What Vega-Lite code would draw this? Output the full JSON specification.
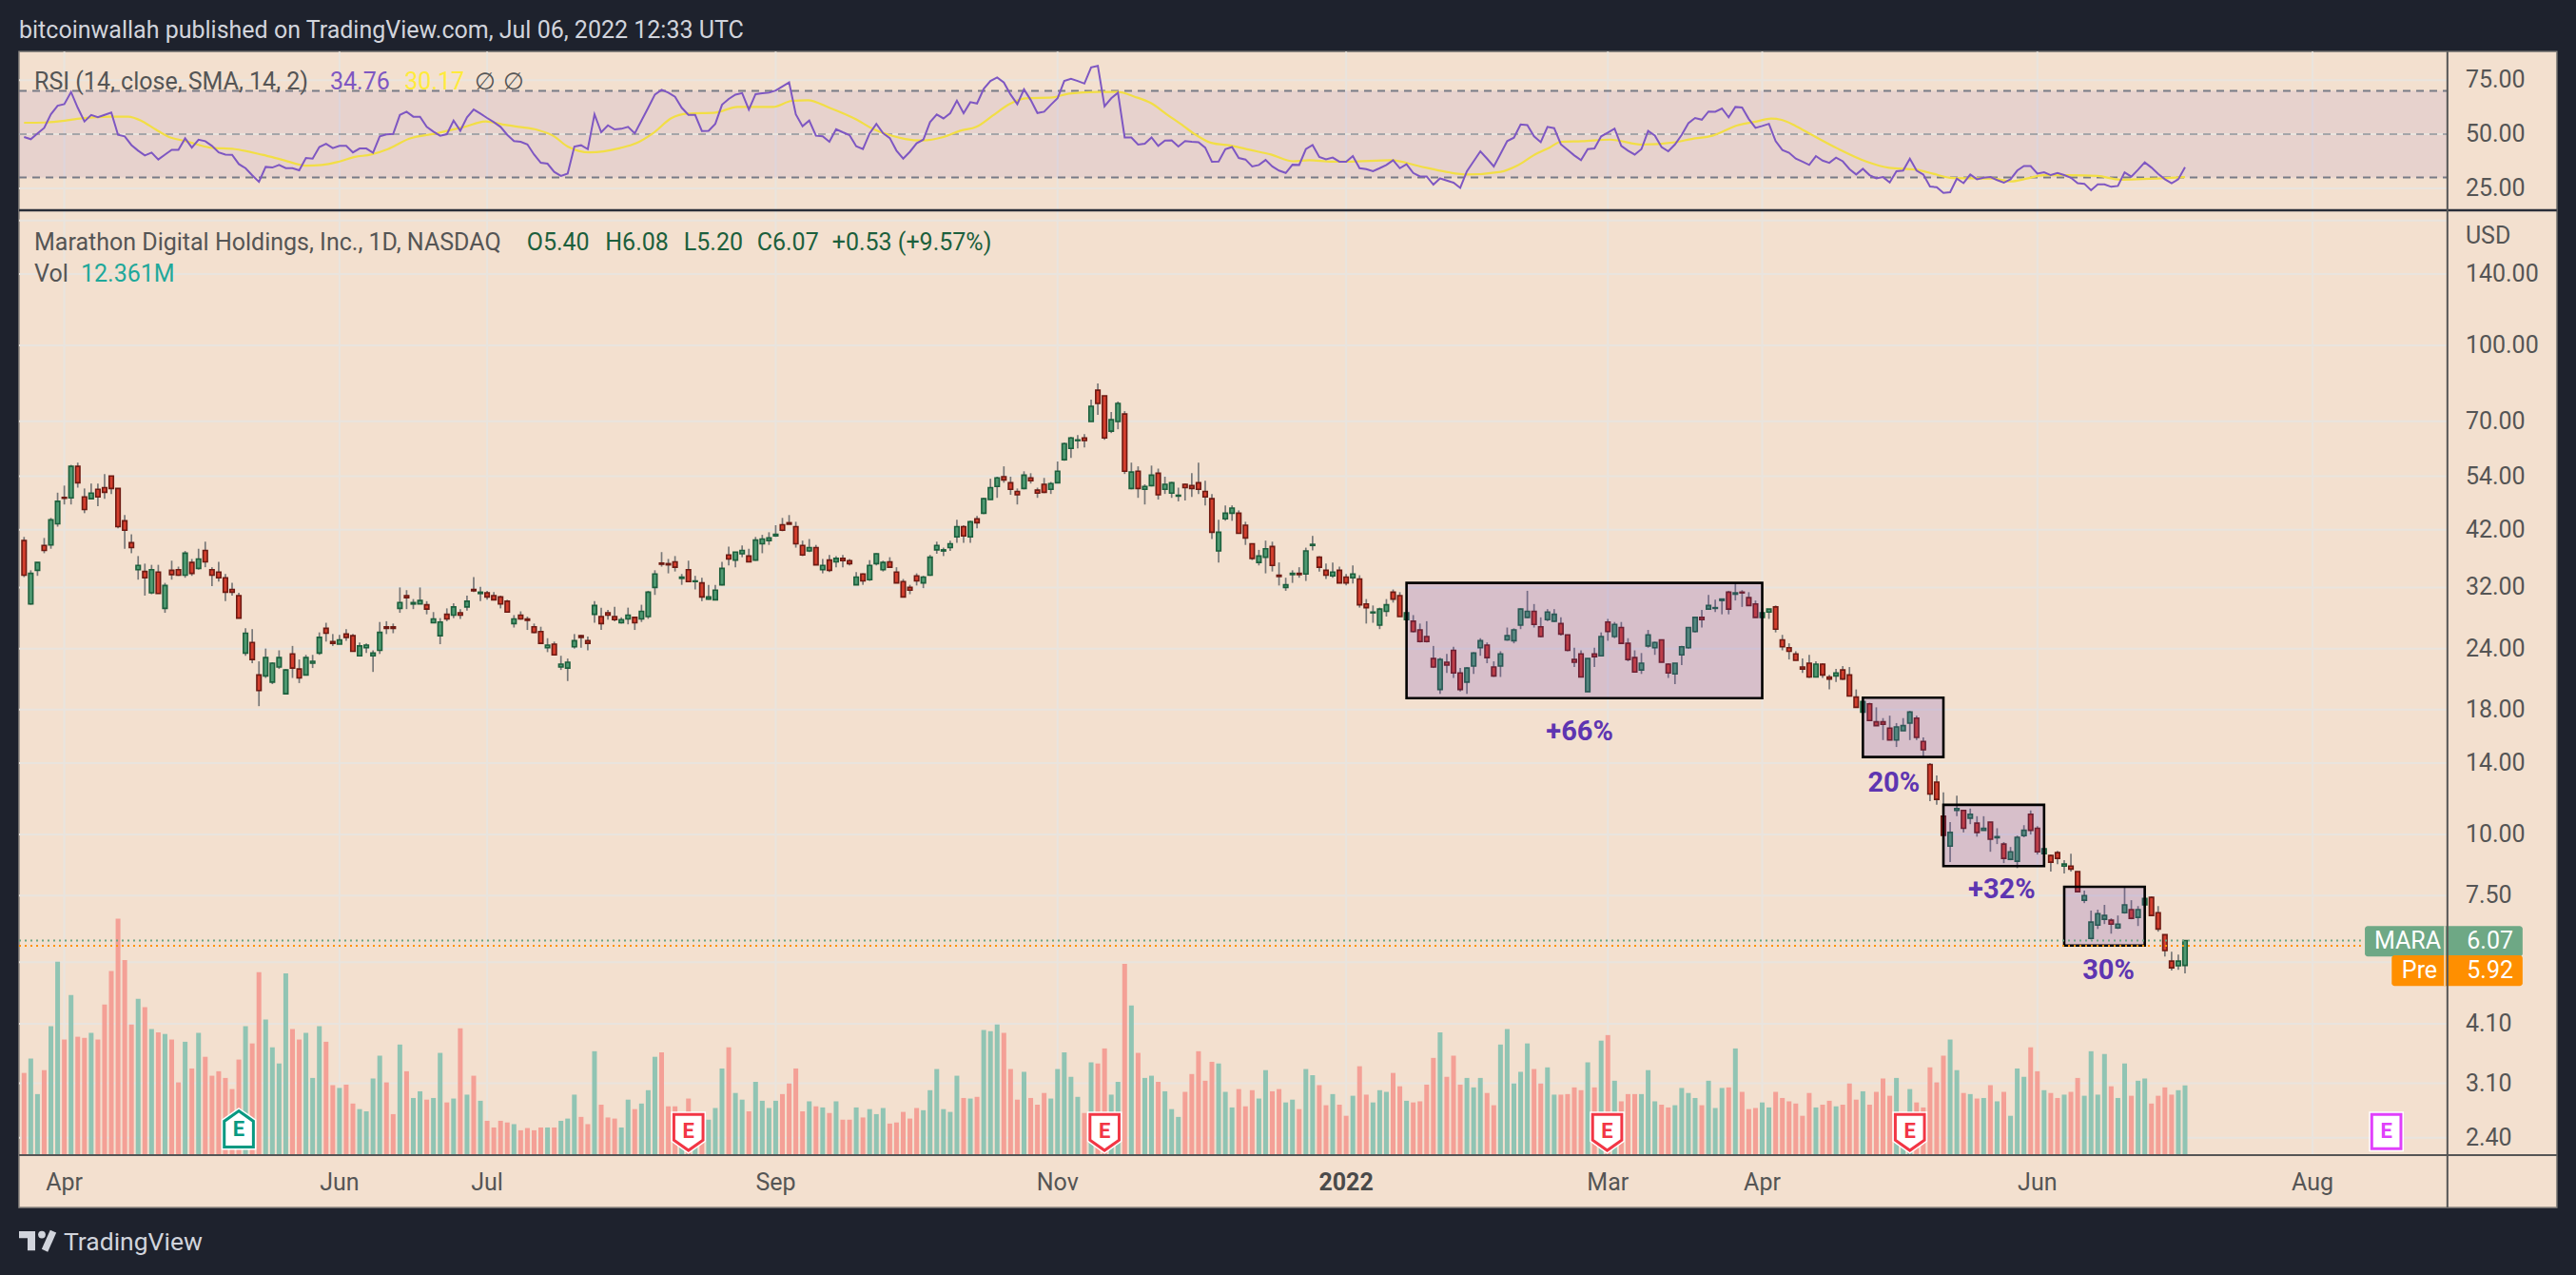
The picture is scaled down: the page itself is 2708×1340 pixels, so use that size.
{"$schema":"https://vega.github.io/schema/vega-lite/v6.json","width":2708,"height":1340,"padding":0,"autosize":{"type":"fit","contains":"padding"},"background":"#1e222d",
"config":{"view":{"stroke":null},"text":{"font":"Roboto","fontSize":25,"align":"left","baseline":"middle"}},
"datasets":{
"bars":[
{"i":0,"o":39.9,"h":40.6,"l":33.6,"c":33.9,"v":14.6,"r":48.7},{"i":1,"o":29.6,"h":34.7,"l":29.5,"c":34.2,"v":17.2,"r":47.7},{"i":2,"o":34.7,"h":36,"l":33.8,"c":36,"v":10.8,"r":50.4},{"i":3,"o":39,"h":40.4,"l":37.6,"c":38.1,"v":15.1,"r":52.9},{"i":4,"o":39.1,"h":44.4,"l":38.4,"c":44,"v":23,"r":59.2},{"i":5,"o":43.2,"h":50,"l":42.6,"c":48,"v":34.6,"r":63.2},{"i":6,"o":48.9,"h":51.7,"l":47.3,"c":48.7,"v":20.6,"r":63.9},{"i":7,"o":48.8,"h":57,"l":47.3,"c":56.6,"v":28.6,"r":69.5},{"i":8,"o":56.6,"h":57.6,"l":51.2,"c":52.4,"v":21.1,"r":62.2},{"i":9,"o":49,"h":51,"l":45.4,"c":46.2,"v":20.9,"r":55.9},
{"i":10,"o":48.6,"h":52.2,"l":48.6,"c":49.9,"v":21.8,"r":58.9},{"i":11,"o":50.8,"h":52.2,"l":46.9,"c":49,"v":20.6,"r":57.8},{"i":12,"o":51.2,"h":54.6,"l":48.6,"c":50.1,"v":26.9,"r":58.9},{"i":13,"o":54.1,"h":54.1,"l":49.7,"c":51,"v":32.9,"r":60},{"i":14,"o":51,"h":51,"l":42.3,"c":42.6,"v":42.3,"r":49.7},{"i":15,"o":43.8,"h":45,"l":38.4,"c":41.9,"v":34.9,"r":49},{"i":16,"o":39.5,"h":41.1,"l":37.6,"c":38.6,"v":23.3,"r":45},{"i":17,"o":34.8,"h":37.1,"l":33.2,"c":35.5,"v":27.9,"r":42.4},{"i":18,"o":34.5,"h":35.8,"l":30.8,"c":33.5,"v":26.4,"r":40.2},{"i":19,"o":31.2,"h":35.6,"l":31,"c":34.8,"v":22.5,"r":41.5},
{"i":20,"o":34.4,"h":35.6,"l":31.1,"c":31.1,"v":21.9,"r":38.3},{"i":21,"o":29,"h":32.7,"l":28.4,"c":32.3,"v":21.6,"r":40.6},{"i":22,"o":34.7,"h":36.3,"l":33.2,"c":34,"v":20.6,"r":42.8},{"i":23,"o":34.8,"h":35.3,"l":33.8,"c":33.9,"v":12.9,"r":42.8},{"i":24,"o":33.9,"h":38,"l":33.5,"c":37.6,"v":20.2,"r":48.1},{"i":25,"o":36,"h":36.6,"l":33.8,"c":34.2,"v":15.4,"r":43.8},{"i":26,"o":35,"h":38.4,"l":34.8,"c":36.6,"v":21.8,"r":47.5},{"i":27,"o":38.1,"h":39.7,"l":35.2,"c":36.1,"v":17.5,"r":46.8},{"i":28,"o":34.8,"h":35.2,"l":32.2,"c":33.9,"v":14.1,"r":44.6},{"i":29,"o":34.4,"h":36.1,"l":32.9,"c":33.5,"v":14.9,"r":41.6},
{"i":30,"o":33.5,"h":34.1,"l":30,"c":31.3,"v":13.7,"r":40.6},{"i":31,"o":31.7,"h":32.7,"l":30.8,"c":31.3,"v":11.7,"r":40.5},{"i":32,"o":30.8,"h":31.2,"l":27.7,"c":27.7,"v":17,"r":36.2},{"i":33,"o":23.5,"h":26.4,"l":23.2,"c":25.8,"v":23,"r":34.3},{"i":34,"o":24.7,"h":26.3,"l":22.4,"c":22.8,"v":19.9,"r":31},{"i":35,"o":21.2,"h":22.6,"l":18.3,"c":19.7,"v":32.7,"r":28},{"i":36,"o":21.1,"h":24,"l":20.9,"c":23,"v":24.2,"r":34.9},{"i":37,"o":20.5,"h":22.5,"l":20.3,"c":22.4,"v":19.2,"r":34.6},{"i":38,"o":22,"h":23.8,"l":21.8,"c":23,"v":16.3,"r":35.8},{"i":39,"o":19.4,"h":21.8,"l":19.4,"c":21.7,"v":32.5,"r":34.3},
{"i":40,"o":23.4,"h":24.3,"l":20.9,"c":21.9,"v":22.5,"r":34.3},{"i":41,"o":21.8,"h":22.8,"l":20.4,"c":20.9,"v":20.6,"r":33.3},{"i":42,"o":21.2,"h":23.3,"l":21.2,"c":23,"v":21.8,"r":39},{"i":43,"o":22.4,"h":23.3,"l":21.9,"c":22.6,"v":13.7,"r":38.7},{"i":44,"o":23.5,"h":25.9,"l":23.3,"c":25.3,"v":23,"r":44.1},{"i":45,"o":26.4,"h":27.1,"l":24.8,"c":25.8,"v":20.2,"r":45.6},{"i":46,"o":24.8,"h":25.7,"l":24.3,"c":24.6,"v":12.4,"r":43.6},{"i":47,"o":24.5,"h":25.6,"l":24.5,"c":25,"v":11.9,"r":44.6},{"i":48,"o":25.7,"h":26.3,"l":24.9,"c":25.3,"v":12.5,"r":44.6},{"i":49,"o":25.5,"h":25.7,"l":23.7,"c":23.7,"v":9.1,"r":41.6},
{"i":50,"o":23.2,"h":24.7,"l":23.2,"c":24.3,"v":8.1,"r":43.4},{"i":51,"o":24.1,"h":24.6,"l":23.5,"c":24.4,"v":7.7,"r":43.4},{"i":52,"o":23.2,"h":23.8,"l":21.5,"c":23.5,"v":13.6,"r":41.4},{"i":53,"o":23.8,"h":27.2,"l":23.4,"c":25.9,"v":17.7,"r":49},{"i":54,"o":26.6,"h":27.3,"l":25.7,"c":26.4,"v":12.9,"r":49.9},{"i":55,"o":26.6,"h":27,"l":25.8,"c":26.4,"v":7.2,"r":50.1},{"i":56,"o":29,"h":32,"l":28.4,"c":29.8,"v":19.7,"r":58.9},{"i":57,"o":30.8,"h":31.6,"l":28.9,"c":30.5,"v":14.9,"r":60.4},{"i":58,"o":29.6,"h":30.3,"l":28.9,"c":29.8,"v":10.1,"r":58.1},{"i":59,"o":29.6,"h":32,"l":29.6,"c":30.1,"v":11.3,"r":58.1},
{"i":60,"o":29.5,"h":30,"l":28.2,"c":28.9,"v":9.8,"r":53.4},{"i":61,"o":27.1,"h":28.5,"l":27.1,"c":27.6,"v":10.1,"r":51.2},{"i":62,"o":25.5,"h":27.7,"l":24.5,"c":27.2,"v":18.2,"r":49.3},{"i":63,"o":28.2,"h":29,"l":27.3,"c":27.6,"v":9.3,"r":50},{"i":64,"o":28.1,"h":29.7,"l":27.7,"c":29.2,"v":10,"r":56.3},{"i":65,"o":28.4,"h":28.9,"l":27.6,"c":28.1,"v":22.6,"r":51.6},{"i":66,"o":29.2,"h":30.8,"l":28.7,"c":30,"v":10.7,"r":57.8},{"i":67,"o":31.7,"h":33.6,"l":31.3,"c":31.5,"v":14.1,"r":61.4},{"i":68,"o":31.1,"h":32.1,"l":30,"c":31.3,"v":9.6,"r":59.5},{"i":69,"o":31.2,"h":31.5,"l":30.2,"c":30.6,"v":6,"r":57.5},
{"i":70,"o":30.8,"h":31.3,"l":30.1,"c":30.2,"v":4.8,"r":55.6},{"i":71,"o":30.6,"h":30.8,"l":29,"c":29.6,"v":6,"r":53.4},{"i":72,"o":30,"h":30.2,"l":28.5,"c":28.5,"v":5.7,"r":49.7},{"i":73,"o":27,"h":28.1,"l":26.5,"c":27.6,"v":5.4,"r":46.8},{"i":74,"o":28.1,"h":28.6,"l":27.5,"c":27.6,"v":4.3,"r":46.5},{"i":75,"o":27.6,"h":27.9,"l":26.2,"c":27.4,"v":4.7,"r":45.3},{"i":76,"o":26.6,"h":27,"l":25.8,"c":25.9,"v":4.3,"r":40.6},{"i":77,"o":26,"h":26.6,"l":24.6,"c":24.6,"v":4.8,"r":36.8},{"i":78,"o":24.1,"h":25.2,"l":23.6,"c":24.4,"v":4.8,"r":36.4},{"i":79,"o":24.5,"h":24.8,"l":23.3,"c":23.3,"v":4.8,"r":32.6},
{"i":80,"o":22,"h":23.2,"l":21.7,"c":22.3,"v":6,"r":30.7},{"i":81,"o":21.9,"h":22.9,"l":20.6,"c":22.5,"v":6.4,"r":31.8},{"i":82,"o":24.2,"h":25.7,"l":24,"c":24.9,"v":10.7,"r":44.3},{"i":83,"o":25.5,"h":25.6,"l":24.1,"c":25.3,"v":6.7,"r":44.9},{"i":84,"o":24.9,"h":25.4,"l":23.8,"c":24.6,"v":5.4,"r":43.1},{"i":85,"o":28.2,"h":30,"l":27.1,"c":29.4,"v":18.5,"r":59.2},{"i":86,"o":27.9,"h":29.1,"l":26.2,"c":27,"v":8.9,"r":50.9},{"i":87,"o":28.4,"h":28.8,"l":27.5,"c":28.1,"v":6.6,"r":54.1},{"i":88,"o":27.9,"h":29.2,"l":27.3,"c":27.5,"v":6.4,"r":52.2},{"i":89,"o":27.1,"h":27.8,"l":27,"c":27.5,"v":4.8,"r":52.5},
{"i":90,"o":27.6,"h":29.1,"l":26.9,"c":28.1,"v":9.8,"r":53.4},{"i":91,"o":27.8,"h":27.9,"l":26.2,"c":27.1,"v":8.1,"r":50.4},{"i":92,"o":27.6,"h":29.5,"l":27.2,"c":28.6,"v":9.1,"r":56.3},{"i":93,"o":27.9,"h":31.5,"l":27.6,"c":31.3,"v":11.5,"r":62.2},{"i":94,"o":32,"h":34.7,"l":30.9,"c":34.1,"v":17.5,"r":68.3},{"i":95,"o":35.9,"h":37.8,"l":35.3,"c":35.7,"v":18.3,"r":70.5},{"i":96,"o":35.8,"h":36.6,"l":34.2,"c":35.6,"v":8.6,"r":69.2},{"i":97,"o":36.1,"h":37.1,"l":34.5,"c":35.2,"v":8.6,"r":67.3},{"i":98,"o":33.4,"h":34.1,"l":32.4,"c":33.6,"v":6,"r":62.2},{"i":99,"o":34.8,"h":36.3,"l":32.9,"c":32.9,"v":10,"r":58.9},
{"i":100,"o":32.9,"h":33.8,"l":31.7,"c":33,"v":6,"r":58.9},{"i":101,"o":32.7,"h":33.5,"l":30,"c":30.6,"v":5.5,"r":51.5},{"i":102,"o":30.3,"h":32.4,"l":30.2,"c":30.6,"v":6.2,"r":51.6},{"i":103,"o":30.2,"h":32.4,"l":30.2,"c":31.6,"v":8.3,"r":54.8},{"i":104,"o":32.4,"h":36.1,"l":32.3,"c":35,"v":15.4,"r":63.6},{"i":105,"o":37.3,"h":38.8,"l":35.5,"c":36.6,"v":19.2,"r":66.3},{"i":106,"o":36.4,"h":37.8,"l":35.2,"c":37.8,"v":11,"r":68.3},{"i":107,"o":37.5,"h":39,"l":36.9,"c":38.1,"v":9.8,"r":69},{"i":108,"o":37.1,"h":38.4,"l":36.1,"c":36.1,"v":7.7,"r":61.4},{"i":109,"o":36.4,"h":40.6,"l":36.3,"c":40,"v":13,"r":68.5},
{"i":110,"o":39.3,"h":41,"l":37.6,"c":40.2,"v":9.6,"r":68.9},{"i":111,"o":39.9,"h":41.5,"l":39.1,"c":40.4,"v":8.3,"r":69.2},{"i":112,"o":40.8,"h":42.9,"l":40.6,"c":41.1,"v":9.6,"r":70.2},{"i":113,"o":43,"h":44.4,"l":41.7,"c":41.9,"v":10.8,"r":72.1},{"i":114,"o":43.4,"h":45,"l":43.1,"c":43.1,"v":12.7,"r":73.9},{"i":115,"o":42.6,"h":43.6,"l":38.6,"c":39.3,"v":15.4,"r":59.2},{"i":116,"o":39,"h":39.9,"l":37.1,"c":37.3,"v":7.7,"r":53.7},{"i":117,"o":38,"h":40.2,"l":37.8,"c":38.6,"v":9.5,"r":56.3},{"i":118,"o":38.6,"h":39.1,"l":35.6,"c":35.6,"v":8.6,"r":49.3},{"i":119,"o":34.8,"h":36.6,"l":34.2,"c":35.5,"v":8.4,"r":49},
{"i":120,"o":36.4,"h":37.3,"l":34.4,"c":34.7,"v":7.4,"r":46.5},{"i":121,"o":36.1,"h":37.1,"l":35.2,"c":36.7,"v":9.5,"r":52.3},{"i":122,"o":36.7,"h":37.3,"l":35.2,"c":36.3,"v":6.2,"r":50.9},{"i":123,"o":36.3,"h":36.6,"l":35.5,"c":35.8,"v":6.2,"r":49.6},{"i":124,"o":32.4,"h":34.4,"l":32.4,"c":33.6,"v":8.4,"r":44.4},{"i":125,"o":34.1,"h":34.2,"l":32.4,"c":33,"v":6.6,"r":43.1},{"i":126,"o":33.2,"h":36.4,"l":33,"c":35.5,"v":8.1,"r":50.4},{"i":127,"o":35.8,"h":37.6,"l":35.5,"c":37.5,"v":7.2,"r":54.8},{"i":128,"o":34.8,"h":36.3,"l":34.5,"c":36,"v":8.3,"r":50.4},{"i":129,"o":36.1,"h":36.9,"l":35.1,"c":35.2,"v":5.5,"r":48.2},
{"i":130,"o":34.4,"h":35.2,"l":32.7,"c":32.7,"v":5.7,"r":42.4},{"i":131,"o":32.9,"h":33.3,"l":30.6,"c":30.6,"v":7.6,"r":38.7},{"i":132,"o":32,"h":32.4,"l":31,"c":31.6,"v":6.4,"r":41.9},{"i":133,"o":33.8,"h":34.2,"l":32.3,"c":33,"v":8.3,"r":45.8},{"i":134,"o":32.7,"h":33.8,"l":31.9,"c":33.6,"v":7.9,"r":47.5},{"i":135,"o":33.9,"h":37.3,"l":33.8,"c":36.9,"v":11.5,"r":55.6},{"i":136,"o":38.2,"h":39.7,"l":37.5,"c":39,"v":15.3,"r":59.1},{"i":137,"o":38,"h":38.6,"l":37.1,"c":38.2,"v":8.1,"r":57.3},{"i":138,"o":38.6,"h":39.9,"l":38,"c":39.3,"v":7.6,"r":59.7},{"i":139,"o":40.6,"h":44,"l":39.5,"c":42.6,"v":14.1,"r":65.5},
{"i":140,"o":42.6,"h":42.9,"l":39.5,"c":40.8,"v":10.1,"r":59.7},{"i":141,"o":40.6,"h":43.8,"l":39.5,"c":43.6,"v":10,"r":64.8},{"i":142,"o":44.2,"h":44.8,"l":42.3,"c":43.4,"v":10.3,"r":64.2},{"i":143,"o":45.4,"h":48.8,"l":45.2,"c":48.6,"v":22.3,"r":71},{"i":144,"o":48.4,"h":53.4,"l":48.4,"c":51.2,"v":22.1,"r":74.6},{"i":145,"o":51.5,"h":53.9,"l":48.8,"c":53.6,"v":23.3,"r":76.2},{"i":146,"o":53.9,"h":56.6,"l":52.4,"c":53.1,"v":21.8,"r":73.9},{"i":147,"o":52.4,"h":53.9,"l":49.5,"c":50.8,"v":15.3,"r":68.3},{"i":148,"o":50.3,"h":51,"l":47.3,"c":49.5,"v":9.8,"r":63.9},{"i":149,"o":51,"h":55.3,"l":50.8,"c":54.3,"v":14.8,"r":70.7},
{"i":150,"o":53.6,"h":54.8,"l":52.2,"c":52.9,"v":10.1,"r":65.8},{"i":151,"o":50.6,"h":51.2,"l":48.8,"c":49.9,"v":8.9,"r":59.8},{"i":152,"o":52,"h":53.6,"l":49.9,"c":50.1,"v":11,"r":60.4},{"i":153,"o":50.8,"h":52.6,"l":49.7,"c":52.2,"v":10,"r":63.6},{"i":154,"o":52.4,"h":57.9,"l":52.4,"c":55.3,"v":15.3,"r":66.6},{"i":155,"o":58.4,"h":63.3,"l":58.1,"c":63,"v":18.3,"r":74.6},{"i":156,"o":61.6,"h":65,"l":58.9,"c":64.7,"v":13.9,"r":75.6},{"i":157,"o":63.9,"h":65.6,"l":61.6,"c":64.1,"v":10.3,"r":74.6},{"i":158,"o":64.7,"h":65.9,"l":61.9,"c":63.9,"v":7.4,"r":73.4},{"i":159,"o":69.9,"h":77.5,"l":69.9,"c":75.1,"v":16.5,"r":80.9},
{"i":160,"o":81,"h":83.6,"l":72.1,"c":76.1,"v":16.3,"r":81.6},{"i":161,"o":78.9,"h":78.9,"l":64.1,"c":64.7,"v":19,"r":62.9},{"i":162,"o":66.8,"h":73.1,"l":66.2,"c":70.5,"v":10.7,"r":66.6},{"i":163,"o":69.9,"h":76.8,"l":67.4,"c":76.1,"v":13,"r":69.2},{"i":164,"o":72.4,"h":73.4,"l":54.6,"c":55.3,"v":34.2,"r":48.5},{"i":165,"o":51,"h":57.6,"l":50.8,"c":55.1,"v":26.7,"r":48.5},{"i":166,"o":55.3,"h":56.6,"l":48.8,"c":51,"v":18.2,"r":45.2},{"i":167,"o":50.8,"h":52,"l":47.3,"c":51.5,"v":13.7,"r":45.6},{"i":168,"o":51.7,"h":56.8,"l":51.5,"c":54.3,"v":14.1,"r":48.5},{"i":169,"o":54.8,"h":56,"l":48.4,"c":49.5,"v":13,"r":44.6},
{"i":170,"o":50.8,"h":53.9,"l":49.7,"c":52,"v":11.3,"r":47.1},{"i":171,"o":49.9,"h":52.6,"l":48.8,"c":52.4,"v":8.1,"r":47.2},{"i":172,"o":49.2,"h":51.2,"l":48,"c":49.4,"v":6.7,"r":44.3},{"i":173,"o":52,"h":52.2,"l":48.2,"c":51.2,"v":11.2,"r":46.8},{"i":174,"o":51.7,"h":54.8,"l":49,"c":51,"v":14.4,"r":46.5},{"i":175,"o":52.4,"h":57.6,"l":49.7,"c":50.8,"v":18.5,"r":46.3},{"i":176,"o":50.3,"h":52.9,"l":47.1,"c":49,"v":13.2,"r":43.8},{"i":177,"o":48.6,"h":49.7,"l":40.2,"c":41.5,"v":16.6,"r":37.3},{"i":178,"o":38,"h":44,"l":36,"c":41.5,"v":16.3,"r":37.4},{"i":179,"o":44.2,"h":47.1,"l":43.8,"c":45.4,"v":11.2,"r":43.1},
{"i":180,"o":45.4,"h":47.1,"l":43.8,"c":46.5,"v":8.4,"r":44.1},{"i":181,"o":45.4,"h":46,"l":41.3,"c":41.3,"v":11.7,"r":39},{"i":182,"o":42.9,"h":43.6,"l":39.1,"c":40.4,"v":8.6,"r":38.3},{"i":183,"o":39.3,"h":39.3,"l":36.4,"c":36.7,"v":11.5,"r":35.1},{"i":184,"o":36,"h":38.2,"l":35.5,"c":37.1,"v":10,"r":35.8},{"i":185,"o":36.9,"h":39.9,"l":34.2,"c":38.4,"v":15.1,"r":38.1},{"i":186,"o":38.8,"h":39.7,"l":34.5,"c":35.5,"v":11.3,"r":35.1},{"i":187,"o":33.9,"h":36,"l":32.3,"c":33.7,"v":11.7,"r":33.2},{"i":188,"o":32,"h":33.5,"l":31.5,"c":32.4,"v":9.3,"r":32.1},{"i":189,"o":34,"h":34.7,"l":32.7,"c":34.2,"v":9.8,"r":35.9},
{"i":190,"o":34.2,"h":35.2,"l":33.5,"c":34,"v":8.1,"r":35.8},{"i":191,"o":34.1,"h":38.6,"l":33,"c":38,"v":15.3,"r":43.1},{"i":192,"o":39,"h":40.8,"l":38.1,"c":39.2,"v":14.2,"r":45},{"i":193,"o":36.9,"h":37.1,"l":34.5,"c":35.2,"v":12.4,"r":39.5},{"i":194,"o":34.7,"h":35.8,"l":33.3,"c":33.9,"v":8.8,"r":38.4},{"i":195,"o":33.8,"h":36,"l":33.5,"c":34.4,"v":10.8,"r":39.2},{"i":196,"o":34.7,"h":35.3,"l":32.7,"c":32.7,"v":8.9,"r":37.3},{"i":197,"o":33.6,"h":34.1,"l":32.3,"c":32.7,"v":6.9,"r":37.3},{"i":198,"o":33.5,"h":35.5,"l":32.6,"c":34.1,"v":10.5,"r":39.9},{"i":199,"o":33.3,"h":33.9,"l":29.1,"c":29.5,"v":15.8,"r":34.3},
{"i":200,"o":29.6,"h":30.3,"l":27,"c":29.1,"v":10.7,"r":33.9},{"i":201,"o":28.4,"h":29.4,"l":27.1,"c":28.5,"v":9.3,"r":32.9},{"i":202,"o":26.8,"h":29.1,"l":26.3,"c":28.9,"v":11.5,"r":34.3},{"i":203,"o":28.6,"h":30.3,"l":27.9,"c":29.5,"v":11.2,"r":35.8},{"i":204,"o":31.3,"h":31.7,"l":29.8,"c":30.3,"v":14.6,"r":38},{"i":205,"o":30.8,"h":31.3,"l":27.9,"c":27.9,"v":12.2,"r":34.3},{"i":206,"o":27.5,"h":29,"l":27.3,"c":28.4,"v":9.6,"r":36.1},{"i":207,"o":27.3,"h":28.1,"l":25.9,"c":26,"v":9.3,"r":32.1},{"i":208,"o":26.2,"h":27,"l":24.7,"c":24.8,"v":9.5,"r":30.5},{"i":209,"o":25.4,"h":27.3,"l":24.7,"c":24.8,"v":12.5,"r":30.5},
{"i":210,"o":22.9,"h":24.3,"l":21.9,"c":22,"v":17.3,"r":26.7},{"i":211,"o":19.8,"h":23,"l":19.4,"c":22.8,"v":21.9,"r":29.6},{"i":212,"o":22.5,"h":23.4,"l":21.4,"c":22.2,"v":13.9,"r":28.6},{"i":213,"o":23.8,"h":24.2,"l":20.9,"c":21.4,"v":17.7,"r":27.6},{"i":214,"o":21.4,"h":21.9,"l":19.6,"c":19.8,"v":12.5,"r":25.2},{"i":215,"o":20.5,"h":22,"l":19.4,"c":21.9,"v":13.7,"r":32.9},{"i":216,"o":22.1,"h":23.6,"l":21.3,"c":23.5,"v":12,"r":37.5},{"i":217,"o":24.1,"h":25.2,"l":23.2,"c":24.9,"v":13.7,"r":42.1},{"i":218,"o":24.4,"h":24.7,"l":22.4,"c":23,"v":11,"r":38.7},{"i":219,"o":22,"h":22.6,"l":21,"c":21.1,"v":8.8,"r":35.1},
{"i":220,"o":22.1,"h":23.7,"l":21,"c":23.4,"v":19.7,"r":40.9},{"i":221,"o":25,"h":26.5,"l":24.9,"c":25.5,"v":22.5,"r":46.8},{"i":222,"o":24.9,"h":26.4,"l":24.6,"c":26.2,"v":12.7,"r":48.4},{"i":223,"o":26.8,"h":29,"l":26.3,"c":28.9,"v":14.8,"r":54.5},{"i":224,"o":27.8,"h":31.5,"l":27.7,"c":28.6,"v":19.9,"r":54.2},{"i":225,"o":28.6,"h":29.6,"l":26.5,"c":26.9,"v":15.3,"r":49},{"i":226,"o":26.6,"h":27.8,"l":25.3,"c":25.4,"v":12.7,"r":46.3},{"i":227,"o":27.5,"h":28.9,"l":27.3,"c":28.5,"v":15.6,"r":53.4},{"i":228,"o":27.3,"h":28.9,"l":27.2,"c":28.2,"v":10.7,"r":52.8},{"i":229,"o":27,"h":27.8,"l":25.5,"c":25.7,"v":10.7,"r":45.3},
{"i":230,"o":25.6,"h":25.6,"l":23.7,"c":23.8,"v":10.8,"r":42.8},{"i":231,"o":22.8,"h":24.1,"l":22,"c":22.5,"v":12,"r":40.2},{"i":232,"o":23.4,"h":23.8,"l":21,"c":21,"v":11.5,"r":38},{"i":233,"o":19.6,"h":22.9,"l":19.6,"c":22.9,"v":16.5,"r":43.1},{"i":234,"o":23.4,"h":24.1,"l":22,"c":23.1,"v":12,"r":43.4},{"i":235,"o":23.2,"h":25.9,"l":23.2,"c":25.4,"v":20.4,"r":49},{"i":236,"o":27.2,"h":27.6,"l":24.9,"c":26,"v":21.4,"r":50.7},{"i":237,"o":25.4,"h":27.2,"l":25.2,"c":26.9,"v":13.2,"r":52.6},{"i":238,"o":26.5,"h":27.2,"l":24.6,"c":24.6,"v":9.5,"r":44.6},{"i":239,"o":24.6,"h":25.2,"l":22.6,"c":22.8,"v":10.8,"r":42.4},
{"i":240,"o":23,"h":23.8,"l":21.5,"c":21.5,"v":10.8,"r":40.6},{"i":241,"o":21.7,"h":23.5,"l":21.3,"c":22.4,"v":10.8,"r":43.1},{"i":242,"o":24.3,"h":26.2,"l":24.1,"c":25.6,"v":15.1,"r":51.5},{"i":243,"o":24.1,"h":24.8,"l":23.3,"c":24.7,"v":9.5,"r":49.4},{"i":244,"o":25,"h":25,"l":22.5,"c":22.5,"v":8.9,"r":44.1},{"i":245,"o":22.3,"h":22.4,"l":20.9,"c":21.4,"v":8.4,"r":42.1},{"i":246,"o":21.3,"h":22.4,"l":20.3,"c":22.4,"v":8.8,"r":45.3},{"i":247,"o":23.3,"h":24.3,"l":22.2,"c":24.2,"v":11.9,"r":49.7},{"i":248,"o":24.1,"h":26.5,"l":24,"c":26.5,"v":11,"r":55.1},{"i":249,"o":26,"h":27.8,"l":25.9,"c":27.8,"v":10.1,"r":57.5},
{"i":250,"o":27.8,"h":28.8,"l":26.5,"c":27.5,"v":8.8,"r":56.7},{"i":251,"o":28.9,"h":30.9,"l":28.8,"c":29.4,"v":13.2,"r":60.5},{"i":252,"o":29,"h":30.2,"l":28.5,"c":29.1,"v":8.3,"r":60.4},{"i":253,"o":30.1,"h":30.3,"l":28.2,"c":30.3,"v":11.9,"r":61.9},{"i":254,"o":31.3,"h":31.5,"l":28.2,"c":28.9,"v":12,"r":57.8},{"i":255,"o":31,"h":32.7,"l":30.1,"c":31.2,"v":19,"r":62.6},{"i":256,"o":31.3,"h":31.6,"l":29.2,"c":31.2,"v":11.2,"r":62.3},{"i":257,"o":30.5,"h":31.3,"l":29.4,"c":29.4,"v":8.1,"r":57},{"i":258,"o":29.6,"h":30.1,"l":27.8,"c":27.8,"v":8.3,"r":52.9},{"i":259,"o":27.8,"h":29,"l":27.7,"c":28.4,"v":9.3,"r":53.8},
{"i":260,"o":28.5,"h":28.9,"l":27.6,"c":28.9,"v":8.4,"r":54.8},{"i":261,"o":29.2,"h":29.4,"l":25.9,"c":26.3,"v":11.2,"r":46.8},{"i":262,"o":25,"h":25.6,"l":23.8,"c":24.2,"v":10.1,"r":42.7},{"i":263,"o":24.1,"h":24.6,"l":22.8,"c":23.7,"v":9.5,"r":41.4},{"i":264,"o":23.4,"h":23.7,"l":22.7,"c":22.7,"v":9.1,"r":38.7},{"i":265,"o":22,"h":22.9,"l":21.4,"c":21.8,"v":6.9,"r":37.3},{"i":266,"o":22.4,"h":23.3,"l":20.9,"c":21,"v":11,"r":35.8},{"i":267,"o":21,"h":22.6,"l":21,"c":22.3,"v":8.4,"r":39.9},{"i":268,"o":22.3,"h":22.4,"l":20.9,"c":21.2,"v":8.9,"r":37.8},{"i":269,"o":21,"h":21.2,"l":19.8,"c":20.8,"v":9.6,"r":36.8},
{"i":270,"o":21.1,"h":21.8,"l":20.5,"c":21.4,"v":8.6,"r":39.2},{"i":271,"o":21.7,"h":22.1,"l":20.7,"c":20.8,"v":8.9,"r":37.5},{"i":272,"o":21.2,"h":22,"l":19.2,"c":19.2,"v":12.7,"r":33.9},{"i":273,"o":19.1,"h":19.8,"l":18.2,"c":18.2,"v":9.8,"r":31.4},{"i":274,"o":17.8,"h":19.1,"l":17.7,"c":18.7,"v":11.3,"r":34},{"i":275,"o":18.5,"h":18.6,"l":17.1,"c":17.1,"v":8.9,"r":31.1},{"i":276,"o":17,"h":18.2,"l":16.7,"c":16.7,"v":11.2,"r":29.6},{"i":277,"o":17,"h":17.3,"l":15.6,"c":16.8,"v":13.6,"r":30.2},{"i":278,"o":16.5,"h":17.5,"l":15.6,"c":15.6,"v":10.5,"r":27.7},{"i":279,"o":15.6,"h":16.9,"l":15.1,"c":16.6,"v":13.7,"r":32.9},
{"i":280,"o":16.3,"h":17.3,"l":16.3,"c":16.7,"v":7,"r":33.2},{"i":281,"o":16.9,"h":17.9,"l":15.6,"c":17.8,"v":11.7,"r":38.7},{"i":282,"o":17.3,"h":17.5,"l":15.6,"c":15.8,"v":9.3,"r":33.2},{"i":283,"o":15.5,"h":15.8,"l":14.4,"c":14.9,"v":8.4,"r":31.4},{"i":284,"o":13.9,"h":14,"l":11.7,"c":12.1,"v":15.6,"r":25.8},{"i":285,"o":12.8,"h":13.2,"l":11.5,"c":11.8,"v":12.9,"r":25.5},{"i":286,"o":10.9,"h":12.2,"l":9.96,"c":9.96,"v":17.7,"r":22.9},{"i":287,"o":9.47,"h":10.6,"l":8.78,"c":10.1,"v":20.6,"r":23.2},{"i":288,"o":11.2,"h":12,"l":10.9,"c":11.3,"v":15.1,"r":29.5},{"i":289,"o":11.2,"h":11.2,"l":10.1,"c":10.3,"v":11,"r":27.4},
{"i":290,"o":10.8,"h":11.3,"l":10.5,"c":11,"v":10.8,"r":31.4},{"i":291,"o":10.55,"h":10.9,"l":9.9,"c":10.1,"v":10,"r":29.2},{"i":292,"o":10.2,"h":10.9,"l":10.2,"c":10.3,"v":10.1,"r":29.9},{"i":293,"o":10.6,"h":10.6,"l":9.22,"c":9.78,"v":12.4,"r":30.2},{"i":294,"o":9.85,"h":10.3,"l":9.56,"c":9.9,"v":9.5,"r":28.8},{"i":295,"o":9.56,"h":9.65,"l":8.74,"c":8.94,"v":11.2,"r":27.6},{"i":296,"o":8.9,"h":9.43,"l":8.86,"c":9.22,"v":6.9,"r":29.2},{"i":297,"o":8.82,"h":9.95,"l":8.54,"c":9.87,"v":15.4,"r":33.2},{"i":298,"o":9.95,"h":10.45,"l":9.87,"c":10.2,"v":13.9,"r":35.3},{"i":299,"o":11,"h":11.2,"l":10,"c":10.2,"v":19.2,"r":35.3},
{"i":300,"o":10.3,"h":10.4,"l":9.1,"c":9.22,"v":14.9,"r":31.8},{"i":301,"o":9.14,"h":9.6,"l":9.1,"c":9.35,"v":11.5,"r":32.4},{"i":302,"o":9.06,"h":9.1,"l":8.4,"c":8.78,"v":11,"r":31.1},{"i":303,"o":9.18,"h":9.26,"l":8.7,"c":8.94,"v":10.1,"r":32.1},{"i":304,"o":8.62,"h":8.86,"l":8.32,"c":8.7,"v":10.7,"r":31.1},{"i":305,"o":8.62,"h":9.14,"l":8.4,"c":8.5,"v":11.2,"r":29.9},{"i":306,"o":8.4,"h":8.4,"l":7.64,"c":7.64,"v":13.7,"r":27.4},{"i":307,"o":7.34,"h":7.68,"l":7.24,"c":7.5,"v":10.5,"r":27.1},{"i":308,"o":6.13,"h":6.99,"l":6.1,"c":6.62,"v":18.5,"r":24.1},{"i":309,"o":6.53,"h":7.02,"l":6.41,"c":6.89,"v":10.7,"r":26.8},
{"i":310,"o":6.71,"h":7.18,"l":6.56,"c":6.83,"v":18,"r":26.8},{"i":311,"o":6.68,"h":6.74,"l":6.27,"c":6.56,"v":12.2,"r":25.7},{"i":312,"o":6.44,"h":6.83,"l":6.41,"c":6.56,"v":10.1,"r":26.1},{"i":313,"o":6.92,"h":7.81,"l":6.89,"c":7.18,"v":16.3,"r":32.4},{"i":314,"o":7.02,"h":7.34,"l":6.71,"c":6.74,"v":10.5,"r":30.4},{"i":315,"o":6.77,"h":7.14,"l":6.5,"c":7.02,"v":13.2,"r":33.6},{"i":316,"o":7.18,"h":7.74,"l":7.11,"c":7.4,"v":13.6,"r":37},{"i":317,"o":7.44,"h":7.47,"l":6.83,"c":6.83,"v":9.1,"r":34.6},{"i":318,"o":6.92,"h":7.14,"l":6.33,"c":6.41,"v":10.5,"r":31.7},{"i":319,"o":6.24,"h":6.24,"l":5.63,"c":5.79,"v":12,"r":29.2},
{"i":320,"o":5.51,"h":5.76,"l":5.27,"c":5.34,"v":10.7,"r":27.3},{"i":321,"o":5.39,"h":5.68,"l":5.29,"c":5.51,"v":11.5,"r":29.2},{"i":322,"o":5.4,"h":6.08,"l":5.2,"c":6.07,"v":12.36,"r":34.76}],
"sma":[{"i":0,"s":55.3},{"i":3,"s":55.4},{"i":5.4,"s":56},{"i":8.6,"s":57.3},{"i":12.7,"s":58.1},{"i":15.5,"s":58.1},{"i":17.6,"s":56},{"i":19.6,"s":52.2},{"i":21.6,"s":48.7},{"i":24.1,"s":46.8},{"i":27.7,"s":43.8},{"i":31.4,"s":43.1},{"i":35.5,"s":40.5},{"i":38.7,"s":38},{"i":42,"s":35.5},{"i":44.4,"s":35.8},{"i":46.9,"s":37.3},{"i":49.3,"s":39.5},{"i":51.7,"s":40.6},{"i":54.2,"s":43.1},{"i":57.4,"s":47.9},{"i":61.5,"s":50.4},{"i":65.6,"s":53.4},{"i":68.8,"s":55.9},{"i":71.3,"s":54.5},{"i":73.7,"s":53.4},{"i":76.6,"s":51.9},{"i":79,"s":49},{"i":81,"s":44.3},{"i":84.3,"s":41.6},{"i":88.8,"s":43.6},{"i":91.2,"s":45.8},{"i":93.7,"s":50.4},{"i":96.5,"s":57.5},{"i":98.9,"s":59.5},{"i":103,"s":60},{"i":106.3,"s":62.6},{"i":111.6,"s":62.6},{"i":114.4,"s":65.4},{"i":116.8,"s":65.7},{"i":120,"s":62.2},{"i":124,"s":56.8},{"i":126.4,"s":52.6},{"i":128.9,"s":49.7},{"i":131.3,"s":47.8},{"i":133.8,"s":47.1},{"i":137,"s":48.7},{"i":139.5,"s":51.6},{"i":141.9,"s":53.4},{"i":144.3,"s":58.5},{"i":146.8,"s":63.9},{"i":149.2,"s":66.6},{"i":153.3,"s":67},{"i":155.7,"s":68.8},{"i":159.8,"s":69.5},{"i":163,"s":69.5},{"i":165.5,"s":67.3},{"i":167.9,"s":64.4},{"i":170.4,"s":58.9},{"i":172.8,"s":53.7},{"i":174.4,"s":50.1},{"i":176.9,"s":46},{"i":180.1,"s":44.6},{"i":182.6,"s":42.8},{"i":185.8,"s":40.6},{"i":189.1,"s":37.5},{"i":191.5,"s":38},{"i":194.8,"s":37.3},{"i":197.2,"s":37.3},{"i":203.7,"s":38},{"i":207.8,"s":35.3},{"i":211.9,"s":32.6},{"i":215.1,"s":31.4},{"i":220,"s":32.6},{"i":222.5,"s":35.5},{"i":224.9,"s":40.2},{"i":227.3,"s":43.8},{"i":229,"s":46.5},{"i":232.2,"s":46.8},{"i":236.3,"s":47.5},{"i":241.2,"s":45.2},{"i":246,"s":46.3},{"i":248.5,"s":47.8},{"i":251.6,"s":49.3},{"i":255.3,"s":54.1},{"i":258.2,"s":55.9},{"i":260.3,"s":57.2},{"i":261.9,"s":56.6},{"i":264,"s":53.8},{"i":266.4,"s":49.7},{"i":270.1,"s":43.6},{"i":274.6,"s":37.3},{"i":277.9,"s":34.5},{"i":282,"s":33.6},{"i":284.5,"s":31.7},{"i":287,"s":29.9},{"i":291,"s":29.6},{"i":293.5,"s":29.5},{"i":296,"s":28.2},{"i":298.4,"s":29.5},{"i":300.9,"s":31.1},{"i":305,"s":31.1},{"i":309,"s":30.7},{"i":312.4,"s":29},{"i":315.7,"s":29.3},{"i":322,"s":30.17}],
"hgrid":[{"p":180},{"p":140},{"p":100},{"p":70},{"p":54},{"p":42},{"p":32},{"p":24},{"p":18},{"p":14},{"p":10},{"p":7.5},{"p":5.48},{"p":4.1},{"p":3.1},{"p":2.4}],
"vgrid":[{"i":6,"t":"Apr"},{"i":47,"t":"Jun"},{"i":69,"t":"Jul"},{"i":112,"t":"Sep"},{"i":154,"t":"Nov"},{"i":197,"t":"2022"},{"i":236,"t":"Mar"},{"i":259,"t":"Apr"},{"i":300,"t":"Jun"},{"i":341,"t":"Aug"}],
"boxes":[{"i":206,"i2":259,"p":32.7,"p2":19},{"i":274,"i2":286,"p":19.05,"p2":14.4},{"i":286,"i2":301,"p":11.5,"p2":8.62},{"i":304,"i2":316,"p":7.82,"p2":5.93}],
"notes":[{"i":231.8,"p":16.2,"t":"+66%"},{"i":278.6,"p":12.75,"t":"20%"},{"i":294.7,"p":7.71,"t":"+32%"},{"i":310.6,"p":5.27,"t":"30%"}],
"ticks":[{"p":140,"t":"140.00"},{"p":100,"t":"100.00"},{"p":70,"t":"70.00"},{"p":54,"t":"54.00"},{"p":42,"t":"42.00"},{"p":32,"t":"32.00"},{"p":24,"t":"24.00"},{"p":18,"t":"18.00"},{"p":14,"t":"14.00"},{"p":10,"t":"10.00"},{"p":7.5,"t":"7.50"},{"p":4.1,"t":"4.10"},{"p":3.1,"t":"3.10"},{"p":2.4,"t":"2.40"},{"p":167.4,"t":"USD"}],
"legend":[{"i":-0.75,"p":441,"t":"bitcoinwallah published on TradingView.com, Jul 06, 2022 12:33 UTC","k":"head"},{"i":1.52,"p":346,"t":"RSI (14, close, SMA, 14, 2)","k":"gray"},{"i":45.6,"p":346,"t":"34.76","k":"rsi"},{"i":56.7,"p":346,"t":"30.17","k":"sma"},{"i":67.1,"p":346,"t":"∅","k":"gray"},{"i":71.4,"p":346,"t":"∅","k":"gray"},{"i":1.52,"p":162.3,"t":"Marathon Digital Holdings, Inc., 1D, NASDAQ","k":"gray"},{"i":74.9,"p":162.3,"t":"O5.40","k":"up"},{"i":86.6,"p":162.3,"t":"H6.08","k":"up"},{"i":98.3,"p":162.3,"t":"L5.20","k":"up"},{"i":109.2,"p":162.3,"t":"C6.07","k":"up"},{"i":120.4,"p":162.3,"t":"+0.53 (+9.57%)","k":"up"},{"i":1.52,"p":140,"t":"Vol","k":"gray"},{"i":8.46,"p":140,"t":"12.361M","k":"vol"},{"i":350.2,"p":6.07,"t":"MARA","k":"tag"},{"i":364,"p":6.07,"t":"6.07","k":"tag"},{"i":354.3,"p":5.27,"t":"Pre","k":"tag"},{"i":364,"p":5.27,"t":"5.92","k":"tag"}],
"last":[{"p":6.07,"k":"MARA"},{"p":5.92,"k":"Pre"}],
"tags":[{"i":348.8,"i2":372.3,"p":6.5,"p2":5.63,"k":"MARA"},{"i":352.8,"i2":372.3,"p":5.66,"p2":4.9,"k":"Pre"}],
"earn":[{"i":32,"p":2.49,"k":"up"},{"i":99,"p":2.47,"k":"down"},{"i":161,"p":2.47,"k":"down"},{"i":235.9,"p":2.47,"k":"down"},{"i":281,"p":2.47,"k":"down"},{"i":352,"p":2.47,"k":"next"}],
"logoBars":[{"i":-0.75,"i2":1.66,"p":1.544,"p2":1.496},{"i":0.52,"i2":1.66,"p":1.544,"p2":1.411}],
"logoDot":[{"i":2.65,"p":1.52}],
"logoSlant":[{"i":4.35,"i2":3.08,"p":1.544,"p2":1.411}]
},
"layer":[
{"layer":[
{"data":{"values":[{"i":-0.75,"i2":377.4,"p":399,"p2":1.727}]},"mark":{"type":"rect","fill":"#f3e0cf","stroke":"#8c8782","strokeWidth":1.5},"encoding":{"x":{"field":"i","type":"quantitative","axis":null,"scale":{"domain":[-3.586,380.26],"nice":false,"zero":false,"padding":0}},"x2":{"field":"i2"},"y":{"field":"p","type":"quantitative","axis":null,"scale":{"type":"log","domain":[1.257,508.6],"nice":false,"zero":false}},"y2":{"field":"p2"}}},
{"data":{"name":"hgrid"},"mark":{"type":"rule","color":"#e9e4de","strokeWidth":2},"encoding":{"x":{"datum":-0.75,"axis":null,"scale":{"domain":[-3.586,380.26],"nice":false,"zero":false,"padding":0}},"x2":{"datum":361.1},"y":{"field":"p","type":"quantitative","axis":null,"scale":{"type":"log","domain":[1.257,508.6],"nice":false,"zero":false}}}},
{"data":{"name":"vgrid"},"mark":{"type":"rule","color":"#e9e4de","strokeWidth":2},"encoding":{"x":{"field":"i","type":"quantitative","axis":null,"scale":{"domain":[-3.586,380.26],"nice":false,"zero":false,"padding":0}},"y":{"datum":399,"axis":null,"scale":{"type":"log","domain":[1.257,508.6],"nice":false,"zero":false}},"y2":{"datum":2.21}}}
]},
{"data":{"name":"bars"},"mark":{"type":"bar","size":5,"orient":"vertical","opacity":0.95},"encoding":{"x":{"field":"i","type":"quantitative","axis":null,"scale":{"domain":[-3.586,380.26],"nice":false,"zero":false,"padding":0}},"y":{"field":"v","type":"quantitative","axis":null,"scale":{"domain":[-21.7,207.35],"nice":false,"zero":false}},"y2":{"datum":0},"color":{"condition":{"test":"datum.c>=datum.o","value":"#8ac2b1"},"value":"#f39c92"}}},
{"layer":[
{"data":{"values":[{"r":70,"r2":30}]},"mark":{"type":"rect","fill":"#7e57c2","fillOpacity":0.1},"encoding":{"x":{"datum":-0.75,"axis":null,"scale":{"domain":[-3.586,380.26],"nice":false,"zero":false,"padding":0}},"x2":{"datum":361.1},"y":{"field":"r","type":"quantitative","axis":null,"scale":{"domain":[-477,112],"nice":false,"zero":false}},"y2":{"field":"r2"}}},
{"data":{"values":[{"r":75},{"r":25},{"r":50}]},"mark":{"type":"rule","color":"#e9e4de","strokeWidth":2},"encoding":{"x":{"datum":-0.75,"axis":null,"scale":{"domain":[-3.586,380.26],"nice":false,"zero":false,"padding":0}},"x2":{"datum":361.1},"y":{"field":"r","type":"quantitative","axis":null,"scale":{"domain":[-477,112],"nice":false,"zero":false}}}},
{"data":{"values":[{"r":70},{"r":30}]},"mark":{"type":"rule","color":"#787b86","strokeWidth":2,"strokeDash":[8,6]},"encoding":{"x":{"datum":-0.75,"axis":null,"scale":{"domain":[-3.586,380.26],"nice":false,"zero":false,"padding":0}},"x2":{"datum":361.1},"y":{"field":"r","type":"quantitative","axis":null,"scale":{"domain":[-477,112],"nice":false,"zero":false}}}},
{"data":{"values":[{"r":50}]},"mark":{"type":"rule","color":"#787b86","opacity":0.6,"strokeWidth":2,"strokeDash":[8,6]},"encoding":{"x":{"datum":-0.75,"axis":null,"scale":{"domain":[-3.586,380.26],"nice":false,"zero":false,"padding":0}},"x2":{"datum":361.1},"y":{"field":"r","type":"quantitative","axis":null,"scale":{"domain":[-477,112],"nice":false,"zero":false}}}},
{"data":{"name":"sma"},"mark":{"type":"line","color":"#f2de45","strokeWidth":2.2,"interpolate":"monotone"},"encoding":{"x":{"field":"i","type":"quantitative","axis":null,"scale":{"domain":[-3.586,380.26],"nice":false,"zero":false,"padding":0}},"y":{"field":"s","type":"quantitative","axis":null,"scale":{"domain":[-477,112],"nice":false,"zero":false}}}},
{"data":{"name":"bars"},"mark":{"type":"line","color":"#7e57c2","strokeWidth":2},"encoding":{"x":{"field":"i","type":"quantitative","axis":null,"scale":{"domain":[-3.586,380.26],"nice":false,"zero":false,"padding":0}},"y":{"field":"r","type":"quantitative","axis":null,"scale":{"domain":[-477,112],"nice":false,"zero":false}}}},
{"data":{"values":[{"r":75,"t":"75.00"},{"r":50,"t":"50.00"},{"r":25,"t":"25.00"}]},"mark":{"type":"text","color":"#555555"},"encoding":{"x":{"datum":363.8,"axis":null,"scale":{"domain":[-3.586,380.26],"nice":false,"zero":false,"padding":0}},"y":{"field":"r","type":"quantitative","axis":null,"scale":{"domain":[-477,112],"nice":false,"zero":false}},"text":{"field":"t"}}}
]},
{"resolve":{"scale":{"color":"independent","stroke":"independent","fill":"independent","shape":"independent"}},"layer":[
{"data":{"name":"bars"},"mark":{"type":"rule","color":"#787878","strokeWidth":1.7},"encoding":{"x":{"field":"i","type":"quantitative","axis":null,"scale":{"domain":[-3.586,380.26],"nice":false,"zero":false,"padding":0}},"y":{"field":"h","type":"quantitative","axis":null,"scale":{"type":"log","domain":[1.257,508.6],"nice":false,"zero":false}},"y2":{"field":"l"}}},
{"data":{"name":"bars"},"mark":{"type":"bar","size":4.5,"strokeWidth":1.6,"orient":"vertical"},"encoding":{"x":{"field":"i","type":"quantitative","axis":null,"scale":{"domain":[-3.586,380.26],"nice":false,"zero":false,"padding":0}},"y":{"field":"o","type":"quantitative","axis":null,"scale":{"type":"log","domain":[1.257,508.6],"nice":false,"zero":false}},"y2":{"field":"c"},"fill":{"condition":{"test":"datum.c>=datum.o","value":"#4f9a72"},"value":"#d43f2e"},"stroke":{"condition":{"test":"datum.c>=datum.o","value":"#1c5f3c"},"value":"#6e1a12"}}},
{"data":{"name":"boxes"},"mark":{"type":"rect","fill":"#673ab7","fillOpacity":0.2,"stroke":"#000000","strokeWidth":2.6},"encoding":{"x":{"field":"i","type":"quantitative","axis":null,"scale":{"domain":[-3.586,380.26],"nice":false,"zero":false,"padding":0}},"x2":{"field":"i2"},"y":{"field":"p","type":"quantitative","axis":null,"scale":{"type":"log","domain":[1.257,508.6],"nice":false,"zero":false}},"y2":{"field":"p2"}}},
{"data":{"name":"notes"},"mark":{"type":"text","color":"#5e35b1","fontWeight":"bold","fontSize":29,"align":"center"},"encoding":{"x":{"field":"i","type":"quantitative","axis":null,"scale":{"domain":[-3.586,380.26],"nice":false,"zero":false,"padding":0}},"y":{"field":"p","type":"quantitative","axis":null,"scale":{"type":"log","domain":[1.257,508.6],"nice":false,"zero":false}},"text":{"field":"t"}}},
{"data":{"name":"last"},"mark":{"type":"rule","strokeWidth":2,"strokeDash":[2,4]},"encoding":{"x":{"datum":-0.75,"axis":null,"scale":{"domain":[-3.586,380.26],"nice":false,"zero":false,"padding":0}},"x2":{"datum":348.2},"y":{"field":"p","type":"quantitative","axis":null,"scale":{"type":"log","domain":[1.257,508.6],"nice":false,"zero":false}},"color":{"field":"k","type":"nominal","legend":null,"scale":{"domain":["MARA","Pre"],"range":["#6ba583","#ff9100"]}}}},
{"data":{"name":"tags"},"mark":{"type":"rect","cornerRadius":3},"encoding":{"x":{"field":"i","type":"quantitative","axis":null,"scale":{"domain":[-3.586,380.26],"nice":false,"zero":false,"padding":0}},"x2":{"field":"i2"},"y":{"field":"p","type":"quantitative","axis":null,"scale":{"type":"log","domain":[1.257,508.6],"nice":false,"zero":false}},"y2":{"field":"p2"},"fill":{"field":"k","type":"nominal","legend":null,"scale":{"domain":["MARA","Pre"],"range":["#6ea885","#ff8f00"]}}}},
{"data":{"values":[{"p":189}]},"mark":{"type":"rule","color":"#2a2e39","strokeWidth":2.5},"encoding":{"x":{"datum":-0.75,"axis":null,"scale":{"domain":[-3.586,380.26],"nice":false,"zero":false,"padding":0}},"x2":{"datum":377.4},"y":{"field":"p","type":"quantitative","axis":null,"scale":{"type":"log","domain":[1.257,508.6],"nice":false,"zero":false}}}},
{"data":{"values":[{"p":2.21}]},"mark":{"type":"rule","color":"#555555","strokeWidth":2},"encoding":{"x":{"datum":-0.75,"axis":null,"scale":{"domain":[-3.586,380.26],"nice":false,"zero":false,"padding":0}},"x2":{"datum":377.4},"y":{"field":"p","type":"quantitative","axis":null,"scale":{"type":"log","domain":[1.257,508.6],"nice":false,"zero":false}}}},
{"data":{"values":[{"p":399,"p2":1.727}]},"mark":{"type":"rule","color":"#555555","strokeWidth":2},"encoding":{"x":{"datum":361.1,"axis":null,"scale":{"domain":[-3.586,380.26],"nice":false,"zero":false,"padding":0}},"y":{"field":"p","type":"quantitative","axis":null,"scale":{"type":"log","domain":[1.257,508.6],"nice":false,"zero":false}},"y2":{"field":"p2"}}},
{"data":{"values":[{"p":6.5,"p2":4.9}]},"mark":{"type":"rule","color":"#f3e0cf","strokeWidth":1.5},"encoding":{"x":{"datum":360.7,"axis":null,"scale":{"domain":[-3.586,380.26],"nice":false,"zero":false,"padding":0}},"y":{"field":"p","type":"quantitative","axis":null,"scale":{"type":"log","domain":[1.257,508.6],"nice":false,"zero":false}},"y2":{"field":"p2"}}},
{"data":{"name":"earn"},"mark":{"type":"point","filled":true,"fill":"#ffffff","stroke":"#ffffff","strokeWidth":6,"size":1300,"opacity":1},"encoding":{"x":{"field":"i","type":"quantitative","axis":null,"scale":{"domain":[-3.586,380.26],"nice":false,"zero":false,"padding":0}},"y":{"field":"p","type":"quantitative","axis":null,"scale":{"type":"log","domain":[1.257,508.6],"nice":false,"zero":false}},"shape":{"field":"k","type":"nominal","legend":null,"scale":{"domain":["up","down","next"],"range":["M0,-1.1L0.85,-0.5V1H-0.85V-0.5Z","M-0.85,-1H0.85V0.5L0,1.1L-0.85,0.5Z","M-0.85,-1H0.85V1H-0.85Z"]}}}},
{"data":{"name":"earn"},"mark":{"type":"point","filled":true,"fill":"#ffffff","strokeWidth":3,"size":1300,"opacity":1},"encoding":{"x":{"field":"i","type":"quantitative","axis":null,"scale":{"domain":[-3.586,380.26],"nice":false,"zero":false,"padding":0}},"y":{"field":"p","type":"quantitative","axis":null,"scale":{"type":"log","domain":[1.257,508.6],"nice":false,"zero":false}},"shape":{"field":"k","type":"nominal","legend":null,"scale":{"domain":["up","down","next"],"range":["M0,-1.1L0.85,-0.5V1H-0.85V-0.5Z","M-0.85,-1H0.85V0.5L0,1.1L-0.85,0.5Z","M-0.85,-1H0.85V1H-0.85Z"]}},"stroke":{"field":"k","type":"nominal","legend":null,"scale":{"domain":["up","down","next"],"range":["#089981","#f23645","#e040fb"]}}}},
{"data":{"name":"earn"},"mark":{"type":"text","text":"E","fontWeight":"bold","fontSize":22,"align":"center"},"encoding":{"x":{"field":"i","type":"quantitative","axis":null,"scale":{"domain":[-3.586,380.26],"nice":false,"zero":false,"padding":0}},"y":{"field":"p","type":"quantitative","axis":null,"scale":{"type":"log","domain":[1.257,508.6],"nice":false,"zero":false}},"color":{"field":"k","type":"nominal","legend":null,"scale":{"domain":["up","down","next"],"range":["#089981","#f23645","#e040fb"]}}}},
{"data":{"name":"vgrid"},"transform":[{"filter":"datum.t!='2022'"}],"mark":{"type":"text","color":"#555555","align":"center"},"encoding":{"x":{"field":"i","type":"quantitative","axis":null,"scale":{"domain":[-3.586,380.26],"nice":false,"zero":false,"padding":0}},"y":{"datum":1.94,"axis":null,"scale":{"type":"log","domain":[1.257,508.6],"nice":false,"zero":false}},"text":{"field":"t"}}},
{"data":{"name":"vgrid"},"transform":[{"filter":"datum.t=='2022'"}],"mark":{"type":"text","color":"#4a4a4a","align":"center","fontWeight":"bold"},"encoding":{"x":{"field":"i","type":"quantitative","axis":null,"scale":{"domain":[-3.586,380.26],"nice":false,"zero":false,"padding":0}},"y":{"datum":1.94,"axis":null,"scale":{"type":"log","domain":[1.257,508.6],"nice":false,"zero":false}},"text":{"field":"t"}}},
{"data":{"name":"ticks"},"mark":{"type":"text","color":"#555555"},"encoding":{"x":{"datum":363.8,"axis":null,"scale":{"domain":[-3.586,380.26],"nice":false,"zero":false,"padding":0}},"y":{"field":"p","type":"quantitative","axis":null,"scale":{"type":"log","domain":[1.257,508.6],"nice":false,"zero":false}},"text":{"field":"t"}}},
{"data":{"name":"legend"},"mark":{"type":"text"},"encoding":{"x":{"field":"i","type":"quantitative","axis":null,"scale":{"domain":[-3.586,380.26],"nice":false,"zero":false,"padding":0}},"y":{"field":"p","type":"quantitative","axis":null,"scale":{"type":"log","domain":[1.257,508.6],"nice":false,"zero":false}},"text":{"field":"t"},"color":{"field":"k","type":"nominal","legend":null,"scale":{"domain":["head","gray","rsi","sma","up","vol","tag"],"range":["#d1d4dc","#555555","#7e57c2","#ffeb3b","#1c5f3c","#1fa89a","#ffffff"]}}}},
{"data":{"values":[{"i":5.91,"p":1.463,"t":"TradingView"}]},"mark":{"type":"text","color":"#d1d4dc","fontSize":26.5},"encoding":{"x":{"field":"i","type":"quantitative","axis":null,"scale":{"domain":[-3.586,380.26],"nice":false,"zero":false,"padding":0}},"y":{"field":"p","type":"quantitative","axis":null,"scale":{"type":"log","domain":[1.257,508.6],"nice":false,"zero":false}},"text":{"field":"t"}}},
{"data":{"name":"logoBars"},"mark":{"type":"rect","fill":"#d1d4dc"},"encoding":{"x":{"field":"i","type":"quantitative","axis":null,"scale":{"domain":[-3.586,380.26],"nice":false,"zero":false,"padding":0}},"x2":{"field":"i2"},"y":{"field":"p","type":"quantitative","axis":null,"scale":{"type":"log","domain":[1.257,508.6],"nice":false,"zero":false}},"y2":{"field":"p2"}}},
{"data":{"name":"logoDot"},"mark":{"type":"point","filled":true,"fill":"#d1d4dc","size":60,"opacity":1},"encoding":{"x":{"field":"i","type":"quantitative","axis":null,"scale":{"domain":[-3.586,380.26],"nice":false,"zero":false,"padding":0}},"y":{"field":"p","type":"quantitative","axis":null,"scale":{"type":"log","domain":[1.257,508.6],"nice":false,"zero":false}}}},
{"data":{"name":"logoSlant"},"mark":{"type":"rule","color":"#d1d4dc","strokeWidth":7},"encoding":{"x":{"field":"i","type":"quantitative","axis":null,"scale":{"domain":[-3.586,380.26],"nice":false,"zero":false,"padding":0}},"x2":{"field":"i2"},"y":{"field":"p","type":"quantitative","axis":null,"scale":{"type":"log","domain":[1.257,508.6],"nice":false,"zero":false}},"y2":{"field":"p2"}}}
]}
],
"resolve":{"scale":{"y":"independent"}}}
